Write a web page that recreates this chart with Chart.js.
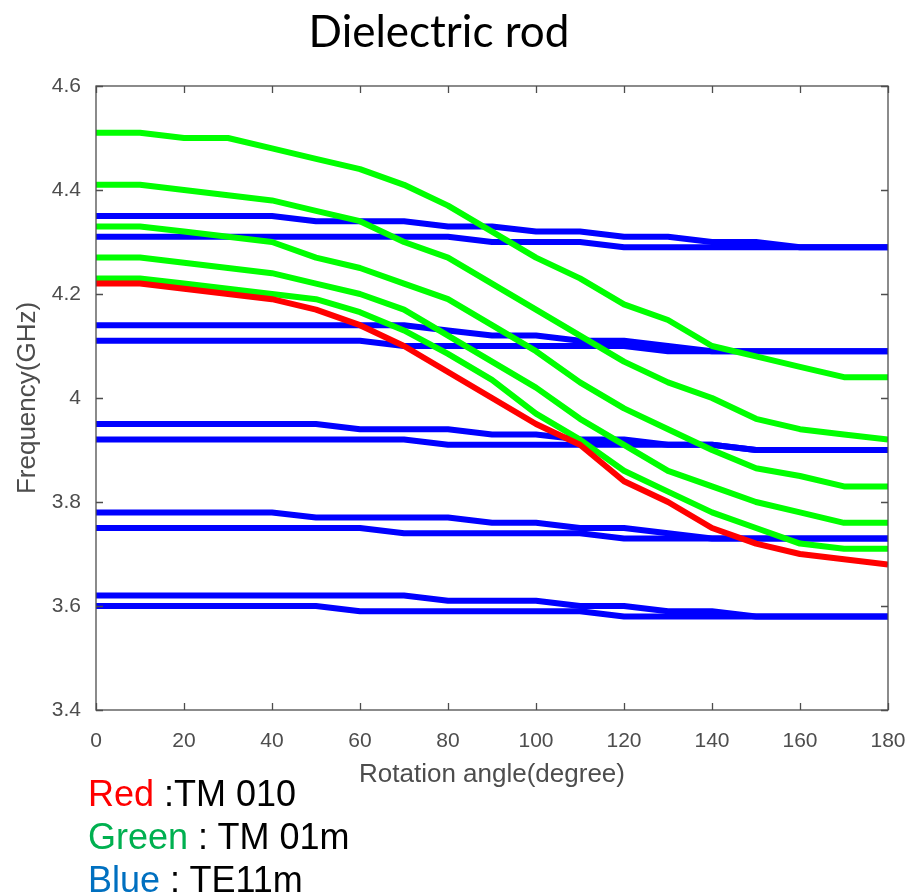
<!DOCTYPE html>
<html>
<head>
<meta charset="utf-8">
<script src="https://cdn.jsdelivr.net/npm/chart.js@4.4.1/dist/chart.umd.min.js"></script>
<style>
  html, body { margin:0; padding:0; background:#fff; width:911px; height:896px; overflow:hidden; }
  #wrap { position:relative; width:911px; height:896px; }
  #chart { position:absolute; left:0; top:0; }
  .title { position:absolute; left:0; width:878px; top:4px; text-align:center; font:44px Lato, 'Open Sans', sans-serif; color:#000; }
  .key { position:absolute; left:88px; font:36px 'Liberation Sans Narrow', 'Liberation Sans', sans-serif; color:#000; line-height:1; white-space:nowrap; }
</style>
</head>
<body>
<div id="wrap">
  <canvas id="chart" width="911" height="896"></canvas>
  <div class="title">Dielectric rod</div>
  <div class="key" style="top:776px"><span style="color:#ff0000">Red</span> :TM 010</div>
  <div class="key" style="top:819px"><span style="color:#00b050">Green</span> : TM 01m</div>
  <div class="key" style="top:862px"><span style="color:#0070c0">Blue</span> : TE11m</div>
</div>
<script>
// rotation angle (degree)
const angles = [0,10,20,30,40,50,60,70,80,90,100,110,120,130,140,150,160,170,180];

// TM 010 (red)
const tm010 = [4.22,4.22,4.21,4.20,4.19,4.17,4.14,4.10,4.05,4.00,3.95,3.91,3.84,3.80,3.75,3.72,3.70,3.69,3.68];

// TM 01m (green)
const tm01m_1 = [4.51,4.51,4.50,4.50,4.48,4.46,4.44,4.41,4.37,4.32,4.27,4.23,4.18,4.15,4.10,4.08,4.06,4.04,4.04];
const tm01m_2 = [4.41,4.41,4.40,4.39,4.38,4.36,4.34,4.30,4.27,4.22,4.17,4.12,4.07,4.03,4.00,3.96,3.94,3.93,3.92];
const tm01m_3 = [4.33,4.33,4.32,4.31,4.30,4.27,4.25,4.22,4.19,4.14,4.09,4.03,3.98,3.94,3.90,3.865,3.85,3.83,3.83];
const tm01m_4 = [4.27,4.27,4.26,4.25,4.24,4.22,4.20,4.17,4.12,4.07,4.02,3.96,3.91,3.86,3.83,3.80,3.78,3.76,3.76];
const tm01m_5 = [4.23,4.23,4.22,4.21,4.20,4.19,4.165,4.13,4.085,4.035,3.97,3.92,3.86,3.82,3.78,3.75,3.72,3.71,3.71];

// TE11m (blue)
const te11m_1a = [4.35,4.35,4.35,4.35,4.35,4.34,4.34,4.34,4.33,4.33,4.32,4.32,4.31,4.31,4.30,4.30,4.29,4.29,4.29];
const te11m_1b = [4.31,4.31,4.31,4.31,4.31,4.31,4.31,4.31,4.31,4.30,4.30,4.30,4.29,4.29,4.29,4.29,4.29,4.29,4.29];
const te11m_2a = [4.14,4.14,4.14,4.14,4.14,4.14,4.14,4.14,4.13,4.12,4.12,4.11,4.11,4.10,4.09,4.09,4.09,4.09,4.09];
const te11m_2b = [4.11,4.11,4.11,4.11,4.11,4.11,4.11,4.10,4.10,4.10,4.10,4.10,4.10,4.09,4.09,4.09,4.09,4.09,4.09];
const te11m_3a = [3.95,3.95,3.95,3.95,3.95,3.95,3.94,3.94,3.94,3.93,3.93,3.92,3.92,3.91,3.91,3.90,3.90,3.90,3.90];
const te11m_3b = [3.92,3.92,3.92,3.92,3.92,3.92,3.92,3.92,3.91,3.91,3.91,3.91,3.91,3.91,3.91,3.90,3.90,3.90,3.90];
const te11m_4a = [3.78,3.78,3.78,3.78,3.78,3.77,3.77,3.77,3.77,3.76,3.76,3.75,3.75,3.74,3.73,3.73,3.73,3.73,3.73];
const te11m_4b = [3.75,3.75,3.75,3.75,3.75,3.75,3.75,3.74,3.74,3.74,3.74,3.74,3.73,3.73,3.73,3.73,3.73,3.73,3.73];
const te11m_5a = [3.62,3.62,3.62,3.62,3.62,3.62,3.62,3.62,3.61,3.61,3.61,3.60,3.60,3.59,3.59,3.58,3.58,3.58,3.58];
const te11m_5b = [3.60,3.60,3.60,3.60,3.60,3.60,3.59,3.59,3.59,3.59,3.59,3.59,3.58,3.58,3.58,3.58,3.58,3.58,3.58];

const xTicks = [0,20,40,60,80,100,120,140,160,180];
const yTicks = [3.4,3.6,3.8,4.0,4.2,4.4,4.6];

const RED = '#ff0000', GREEN = '#00ff00', BLUE = '#0000ff';

function line(vals, color){
  return {
    data: angles.map((a,i) => ({x:a, y:vals[i]})),
    borderColor: color, backgroundColor: color,
    borderWidth: 6, pointRadius: 0, tension: 0,
    borderJoinStyle: 'round', fill: false
  };
}

// first dataset is drawn on top
const datasets = [
  line(tm010, RED),
  line(tm01m_1, GREEN), line(tm01m_2, GREEN), line(tm01m_3, GREEN), line(tm01m_4, GREEN), line(tm01m_5, GREEN),
  line(te11m_1a, BLUE), line(te11m_1b, BLUE), line(te11m_2a, BLUE), line(te11m_2b, BLUE),
  line(te11m_3a, BLUE), line(te11m_3b, BLUE), line(te11m_4a, BLUE), line(te11m_4b, BLUE),
  line(te11m_5a, BLUE), line(te11m_5b, BLUE)
];

// MATLAB-like box with inward ticks
const boxPlugin = {
  id: 'box',
  afterDraw(chart){
    const {ctx, chartArea:a, scales:{x, y}} = chart;
    ctx.save();
    ctx.strokeStyle = '#4d4d4d';
    ctx.lineWidth = 1.3;
    ctx.strokeRect(a.left, a.top, a.right - a.left, a.bottom - a.top);
    const t = 7;
    ctx.beginPath();
    xTicks.forEach(v => {
      const px = Math.round(x.getPixelForValue(v)) + 0.5;
      ctx.moveTo(px, a.bottom); ctx.lineTo(px, a.bottom - t);
      ctx.moveTo(px, a.top); ctx.lineTo(px, a.top + t);
    });
    yTicks.forEach(v => {
      const py = Math.round(y.getPixelForValue(v)) + 0.5;
      ctx.moveTo(a.left, py); ctx.lineTo(a.left + t, py);
      ctx.moveTo(a.right, py); ctx.lineTo(a.right - t, py);
    });
    ctx.stroke();
    ctx.restore();
  }
};

const tickColor = '#4d4d4d';
const tickFont = {family: "'Liberation Sans', Arial, sans-serif", size: 21};
const titleFont = {family: "'Liberation Sans', Arial, sans-serif", size: 26};

new Chart(document.getElementById('chart').getContext('2d'), {
  type: 'line',
  data: { datasets },
  options: {
    responsive: false,
    animation: false,
    events: [],
    layout: { padding: { left: 0, top: 86, right: 23, bottom: 106 } },
    plugins: { legend: { display: false }, tooltip: { enabled: false } },
    scales: {
      x: {
        type: 'linear', min: 0, max: 180,
        afterBuildTicks: s => { s.ticks = xTicks.map(v => ({value: v})); },
        afterFit: s => { s.height = 80; s.paddingLeft = 0; s.paddingRight = 0; },
        grid: { display: false, drawTicks: false },
        border: { display: false },
        ticks: { color: tickColor, font: tickFont, padding: 19, maxRotation: 0 },
        title: { display: true, text: 'Rotation angle(degree)', color: tickColor, font: titleFont, padding: { top: 0, bottom: 0 } }
      },
      y: {
        type: 'linear', min: 3.4, max: 4.6,
        afterBuildTicks: s => { s.ticks = yTicks.map(v => ({value: v})); },
        afterFit: s => { s.width = 96; s.paddingTop = 0; s.paddingBottom = 0; },
        grid: { display: false, drawTicks: false },
        border: { display: false },
        ticks: { color: tickColor, font: tickFont, padding: 15,
          callback: v => (Math.round(v * 10) / 10).toString() },
        title: { display: true, text: 'Frequency(GHz)', color: tickColor, font: titleFont, padding: { top: 12, bottom: 0 } }
      }
    }
  },
  plugins: [boxPlugin]
});
</script>
</body>
</html>
